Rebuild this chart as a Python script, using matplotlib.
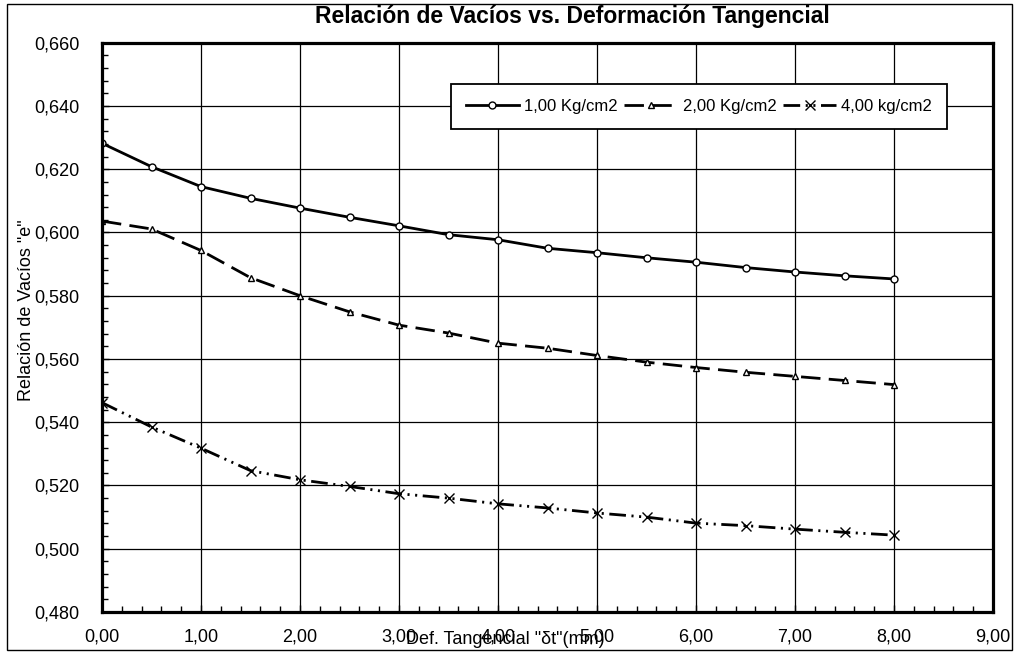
import matplotlib
matplotlib.use("Agg")
import matplotlib.pyplot as plt
from matplotlib.patches import Rectangle
from matplotlib.ticker import MultipleLocator, FuncFormatter

plt.rcParams["font.family"] = ["Liberation Sans", "DejaVu Sans"]
plt.rcParams["lines.scale_dashes"] = False

# Deformación tangencial (mm)
deform = [0.0, 0.5, 1.0, 1.5, 2.0, 2.5, 3.0, 3.5, 4.0,
          4.5, 5.0, 5.5, 6.0, 6.5, 7.0, 7.5, 8.0]

# Relación de vacíos por carga normal
e_100 = [0.6282, 0.6208, 0.6145, 0.6108, 0.6077, 0.6048, 0.6021, 0.5993, 0.5977,
         0.5950, 0.5936, 0.5920, 0.5906, 0.5889, 0.5875, 0.5863, 0.5853]
e_200 = [0.6036, 0.6011, 0.5943, 0.5857, 0.5800, 0.5749, 0.5707, 0.5682, 0.5650,
         0.5634, 0.5611, 0.5590, 0.5573, 0.5558, 0.5545, 0.5532, 0.5519]
e_400 = [0.5462, 0.5385, 0.5318, 0.5247, 0.5218, 0.5197, 0.5174, 0.5160, 0.5142,
         0.5129, 0.5113, 0.5100, 0.5081, 0.5073, 0.5062, 0.5052, 0.5043]

labels = ["1,00 Kg/cm2", "2,00 Kg/cm2", "4,00 kg/cm2"]

W, H = 1019, 655
fig = plt.figure(figsize=(W / 100, H / 100), dpi=100)
ax = fig.add_axes([102 / W, (H - 612) / H, 891 / W, (612 - 42.7) / H])

lw = 2.0
ax.plot(deform, e_100, color="black", lw=lw, linestyle="-",
        marker="o", markersize=5, markerfacecolor="white",
        markeredgecolor="black", markeredgewidth=1, label=labels[0])
ax.plot(deform, e_200, color="black", lw=lw, linestyle=(0, (14, 6)),
        marker="^", markersize=4.5, markerfacecolor="white",
        markeredgecolor="black", markeredgewidth=1, label=labels[1])
ax.plot(deform, e_400, color="black", lw=lw,
        linestyle=(0, (12, 4, 1.5, 4, 1.5, 4)),
        marker="x", markersize=7, markeredgecolor="black",
        markeredgewidth=1, label=labels[2])

ax.set_xlim(0, 9)
ax.set_ylim(0.48, 0.66)
ax.xaxis.set_major_locator(MultipleLocator(1))
ax.xaxis.set_minor_locator(MultipleLocator(0.2))
ax.yaxis.set_major_locator(MultipleLocator(0.02))
ax.yaxis.set_minor_locator(MultipleLocator(0.004))

comma = lambda fmt: FuncFormatter(lambda v, p: format(v, fmt).replace(".", ","))
ax.xaxis.set_major_formatter(comma(".2f"))
ax.yaxis.set_major_formatter(comma(".3f"))

ax.tick_params(which="both", direction="in", top=False, right=False,
               colors="black", labelsize=13)
ax.tick_params(which="major", length=5, width=1)
ax.tick_params(which="minor", length=4, width=1)
ax.tick_params(axis="x", pad=12)
ax.tick_params(axis="y", pad=16)

ax.grid(True, which="major", color="black", linewidth=0.9)
ax.set_axisbelow(True)
for s in ax.spines.values():
    s.set_linewidth(2.3)
    s.set_color("black")

fig.text(572 / W, 1 - 16 / H, "Relación de Vacíos vs. Deformación Tangencial",
         ha="center", va="center", fontsize=16.5, fontweight="bold")
fig.text(27 / W, 1 - 310 / H, 'Relación de Vacíos "e"', rotation=90,
         ha="center", va="center", fontsize=13)
fig.text(505 / W, 1 - 640 / H, 'Def. Tangencial "δt"(mm)',
         ha="center", va="center", fontsize=13)

leg = fig.legend(loc="center", bbox_to_anchor=(699 / W, 1 - 106 / H),
                 ncol=3, fontsize=12, handlelength=3.2, handletextpad=0.3,
                 columnspacing=0.4, borderpad=0.9, borderaxespad=0,
                 fancybox=False, framealpha=1, edgecolor="black")
leg.get_frame().set_linewidth(1.3)

fig.patches.append(Rectangle((6.5 / W, 5 / H), (1012 - 6.5) / W, (650 - 4) / H,
                             transform=fig.transFigure, fill=False,
                             edgecolor="black", linewidth=1))

fig.savefig("out.png", dpi=100)
